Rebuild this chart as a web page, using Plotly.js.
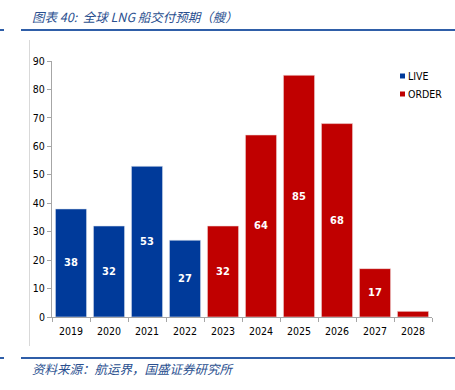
<!DOCTYPE html>
<html><head><meta charset="utf-8">
<script src="https://cdn.plot.ly/plotly-3.0.1.min.js"></script>
<style>html,body{margin:0;padding:0;background:#fff}#c{width:455px;height:390px}</style>
</head><body><div id="c"></div>
<script>
const years = ['2019','2020','2021','2022','2023','2024','2025','2026','2027','2028'];
const liveYears = ['2019','2020','2021','2022'];
const liveValues = [38,32,53,27];
const orderYears = ['2023','2024','2025','2026','2027','2028'];
const orderValues = [32,64,85,68,17,2];
const yTicks = [0,10,20,30,40,50,60,70,80,90];
const seriesNames = ['LIVE','ORDER'];
const titleText = '图表 40:  全球 LNG 船交付预期（艘）';
const sourceText = '资料来源：航运界，国盛证券研究所';

const BLUE = '#003A9A', RED = '#C00000';
const L = 52, R = 432, T = 61, B = 317;
const px = x => (x - L) / (R - L);
const py = y => (B - y) / (B - T);
const lbl = v => v >= 10 ? String(v) : '';
const FONT = 'DejaVu Sans Condensed, DejaVu Sans';

const common = {type:'bar', textposition:'inside', insidetextanchor:'middle',
  textfont:{family:FONT, size:11, color:'#ffffff', weight:'bold'},
  width:0.82, hoverinfo:'none', showlegend:false};

const data = [
  Object.assign({}, common, {name:seriesNames[0], x:liveYears, y:liveValues, text:liveValues.map(lbl),
    marker:{color:BLUE, line:{color:'#dfe6f0', width:0.6}}}),
  Object.assign({}, common, {name:seriesNames[1], x:orderYears, y:orderValues, text:orderValues.map(lbl),
    marker:{color:RED, line:{color:'#f0dede', width:0.6}}})
];

const legendY = [76, 94];
const legendCol = [BLUE, RED];
const legShapes = legendY.map((y,i) => ({type:'rect', xref:'paper', yref:'paper',
  x0:px(400), x1:px(405), y0:py(y-2.5), y1:py(y+2.5), fillcolor:legendCol[i], line:{width:0}}));
const legAnn = legendY.map((y,i) => ({xref:'paper', yref:'paper', x:px(406), y:py(y), xanchor:'left', yanchor:'middle',
  showarrow:false, text:seriesNames[i], font:{family:FONT, size:10.5, color:'#000'}}));

const layout = {
  width:455, height:390, paper_bgcolor:'#fff', plot_bgcolor:'#fff',
  margin:{l:L, r:455-R, t:T, b:390-B},
  barmode:'overlay', showlegend:false,
  font:{family:FONT, size:10, color:'#000'},
  xaxis:{type:'category', categoryorder:'array', categoryarray:years, range:[-0.5,9.5],
    showline:true, linecolor:'#a6a6a6', linewidth:1, ticks:'outside', tickson:'boundaries',
    ticklen:4, tickcolor:'#a6a6a6', showgrid:false, fixedrange:true, zeroline:false,
    tickfont:{family:FONT, size:10.5, color:'#000'}, ticklabelstandoff:4},
  yaxis:{range:[0,90], tickvals:yTicks, showline:true, linecolor:'#a6a6a6', linewidth:1,
    ticks:'outside', ticklen:4, tickcolor:'#a6a6a6', showgrid:false, zeroline:false,
    tickfont:{family:FONT, size:10.5, color:'#000'}, ticklabelstandoff:0},
  shapes:[
    {type:'line', xref:'paper', yref:'paper', x0:px(21), x1:px(455), y0:py(30), y1:py(30), line:{color:'#2F5EA8', width:2}},
    {type:'line', xref:'paper', yref:'paper', x0:px(0), x1:px(4), y0:py(30), y1:py(30), line:{color:'#2F5EA8', width:2}},
    {type:'line', xref:'paper', yref:'paper', x0:px(21), x1:px(455), y0:py(358), y1:py(358), line:{color:'#2F5EA8', width:2}},
    {type:'line', xref:'paper', yref:'paper', x0:px(0), x1:px(4), y0:py(358), y1:py(358), line:{color:'#2F5EA8', width:2}},
    {type:'line', xref:'paper', yref:'paper', x0:px(29.5), x1:px(29.5), y0:py(40), y1:py(346), line:{color:'#d9d9d9', width:1}}
  ].concat(legShapes),
  annotations:[
    {xref:'paper', yref:'paper', x:px(30), y:py(16), xanchor:'left', yanchor:'middle', showarrow:false,
     text:'<i>'+titleText+'</i>', font:{family:'Noto Sans CJK SC', size:12.5, color:'#2A4F8F'}},
    {xref:'paper', yref:'paper', x:px(30), y:py(368), xanchor:'left', yanchor:'middle', showarrow:false,
     text:'<i>'+sourceText+'</i>', font:{family:'Noto Sans CJK SC', size:12.5, color:'#2A4F8F'}}
  ].concat(legAnn)
};
Plotly.newPlot('c', data, layout, {displayModeBar:false, staticPlot:true});
</script></body></html>
